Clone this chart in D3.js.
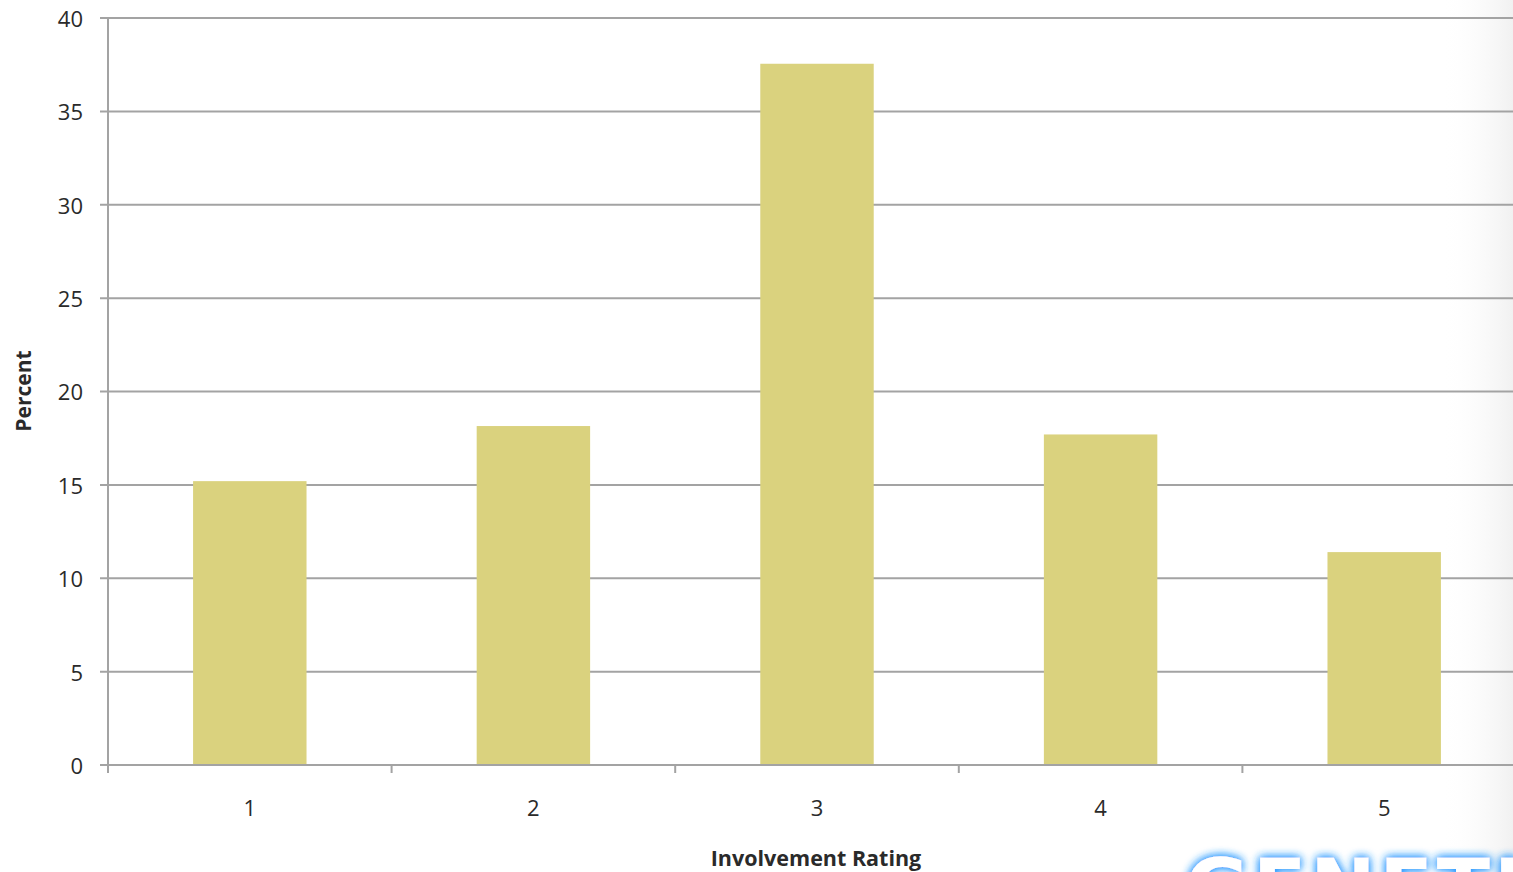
<!DOCTYPE html>
<html>
<head>
<meta charset="utf-8">
<script src="https://cdn.jsdelivr.net/npm/d3@7"></script>
<style>
  html, body { margin: 0; padding: 0; background: #fff; overflow: hidden; }
  svg { display: block; }
</style>
</head>
<body>
<svg id="chart" width="1513" height="872"></svg>
<script>
const categories = ["1", "2", "3", "4", "5"];
const percentValues = [15.2, 18.15, 37.55, 17.7, 11.4];
const yTicks = [0, 5, 10, 15, 20, 25, 30, 35, 40];
const xTitle = "Involvement Rating";
const yTitle = "Percent";

(function () {
const W = 1513, H = 872;
const svg = d3.select("#chart");
const defs = svg.append("defs");

// subtle right-side slide shading
const grad = defs.append("linearGradient").attr("id", "shade")
  .attr("x1", "0").attr("x2", "1").attr("y1", "0").attr("y2", "0");
grad.append("stop").attr("offset", "0").attr("stop-color", "#ffffff").attr("stop-opacity", 0);
grad.append("stop").attr("offset", "1").attr("stop-color", "#f1f1f1").attr("stop-opacity", 1);
svg.append("rect").attr("x", 1440).attr("y", 0).attr("width", W - 1440).attr("height", H)
  .attr("fill", "url(#shade)");

const glow = defs.append("filter").attr("id", "glow").attr("x", "-20%").attr("y", "-50%")
  .attr("width", "140%").attr("height", "200%");
glow.append("feGaussianBlur").attr("in", "SourceAlpha").attr("stdDeviation", 5).attr("result", "b");
glow.append("feFlood").attr("flood-color", "#2f9bff").attr("result", "c");
glow.append("feComposite").attr("in", "c").attr("in2", "b").attr("operator", "in").attr("result", "g");
const gm = glow.append("feMerge");
gm.append("feMergeNode").attr("in", "g");
gm.append("feMergeNode").attr("in", "g");
gm.append("feMergeNode").attr("in", "SourceGraphic");

const mLeft = 108, mTop = 18, mBottom = 765, mRight = 1526;

const y = d3.scaleLinear().domain([0, 40]).range([mBottom, mTop]);
const x = d3.scaleBand().domain(categories).range([mLeft, mRight])
  .paddingInner(0.6).paddingOuter(0.3);
const xTickPos = d3.scaleLinear().domain([0, 5]).range([mLeft, mRight]);

// gridlines
svg.append("g").selectAll("line").data(yTicks.filter(d => d > 0)).join("line")
  .attr("x1", mLeft - 8).attr("x2", W)
  .attr("y1", d => y(d)).attr("y2", d => y(d))
  .attr("stroke", "#a3a3a3").attr("stroke-width", 2);

// bars
svg.append("g").selectAll("rect").data(percentValues).join("rect")
  .attr("x", (d, i) => x(categories[i]))
  .attr("width", x.bandwidth())
  .attr("y", d => y(d))
  .attr("height", d => y(0) - y(d))
  .attr("fill", "#dad27e");

// y axis line
svg.append("line").attr("x1", mLeft).attr("x2", mLeft).attr("y1", mTop).attr("y2", mBottom + 8)
  .attr("stroke", "#a3a3a3").attr("stroke-width", 2);
// x axis line
svg.append("line").attr("x1", mLeft - 8).attr("x2", W).attr("y1", mBottom).attr("y2", mBottom)
  .attr("stroke", "#a3a3a3").attr("stroke-width", 2);
// x ticks
svg.append("g").selectAll("line").data(d3.range(1, 5)).join("line")
  .attr("x1", d => xTickPos(d)).attr("x2", d => xTickPos(d))
  .attr("y1", mBottom).attr("y2", mBottom + 8)
  .attr("stroke", "#a3a3a3").attr("stroke-width", 2);

const font = "'Open Sans', 'Noto Sans', sans-serif";

// y tick labels
svg.append("g").selectAll("text").data(yTicks).join("text")
  .attr("x", 83).attr("y", d => y(d) + 1).attr("dy", "0.36em")
  .attr("text-anchor", "end")
  .attr("font-family", font).attr("font-size", 22).attr("fill", "#2a2a2a")
  .text(d => d);

// x tick labels
svg.append("g").selectAll("text").data(categories).join("text")
  .attr("x", d => x(d) + x.bandwidth() / 2).attr("y", 816)
  .attr("text-anchor", "middle")
  .attr("font-family", font).attr("font-size", 22).attr("fill", "#2a2a2a")
  .text(d => d);

// axis titles
svg.append("text").attr("x", 816).attr("y", 866).attr("text-anchor", "middle")
  .attr("font-family", font).attr("font-weight", "bold").attr("font-size", 21.5)
  .attr("fill", "#2a2a2a").text(xTitle);

svg.append("text").attr("transform", "translate(31,391) rotate(-90)")
  .attr("text-anchor", "middle")
  .attr("font-family", font).attr("font-weight", "bold").attr("font-size", 21)
  .attr("fill", "#2a2a2a").text(yTitle);

// partial logo at bottom right (cropped by the slide edge, as in the reference)
svg.append("text").attr("x", 1185).attr("y", 915)
  .attr("font-family", "'DejaVu Sans', sans-serif").attr("font-weight", "bold")
  .attr("font-size", 78).attr("fill", "#ffffff").attr("filter", "url(#glow)")
  .attr("letter-spacing", 4)
  .text("GENETICS");
})();
</script>
</body>
</html>
